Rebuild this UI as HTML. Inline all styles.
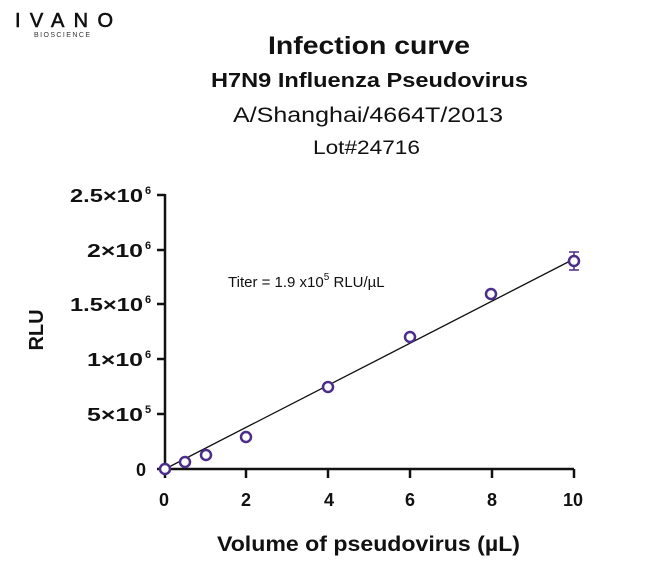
<!DOCTYPE html>
<html><head><meta charset="utf-8"><style>
body{margin:0;background:#fff}
svg{display:block;font-family:"Liberation Sans",sans-serif}
</style></head><body>
<svg width="650" height="588" viewBox="0 0 650 588">
<text x="15" y="27" font-size="20" fill="#111" textLength="98" lengthAdjust="spacing" stroke="#111" stroke-width="0.6">IVANO</text>
<text x="34" y="37" font-size="7" fill="#333" textLength="56" lengthAdjust="spacing">BIOSCIENCE</text>
<g fill="#111">
<text x="268" y="54" font-size="25" font-weight="bold" textLength="202" lengthAdjust="spacingAndGlyphs">Infection curve</text>
<text x="211" y="87" font-size="20" font-weight="bold" textLength="317" lengthAdjust="spacingAndGlyphs">H7N9 Influenza Pseudovirus</text>
<text x="233" y="122" font-size="21" textLength="270" lengthAdjust="spacingAndGlyphs">A/Shanghai/4664T/2013</text>
<text x="313" y="154" font-size="19" textLength="107" lengthAdjust="spacingAndGlyphs">Lot#24716</text>
</g>
<g stroke="#111" stroke-width="2.5" fill="none">
<path d="M165 194V469H574"/>
<path d="M157 195H165M157 250H165M157 304H165M157 359H165M157 414H165M157 469H165"/>
<path d="M246 469V478M328 469V478M410 469V478M492 469V478M574 469V478M165 469V478"/>
</g>
<g font-size="18" font-weight="bold" fill="#111">
<text x="70" y="202" textLength="73" lengthAdjust="spacingAndGlyphs">2.5×10</text><text x="145" y="194" font-size="11">6</text>
<text x="87" y="257" textLength="56" lengthAdjust="spacingAndGlyphs">2×10</text><text x="145" y="249" font-size="11">6</text>
<text x="70" y="311" textLength="73" lengthAdjust="spacingAndGlyphs">1.5×10</text><text x="145" y="303" font-size="11">6</text>
<text x="87" y="366" textLength="56" lengthAdjust="spacingAndGlyphs">1×10</text><text x="145" y="358" font-size="11">6</text>
<text x="87" y="421" textLength="56" lengthAdjust="spacingAndGlyphs">5×10</text><text x="145" y="413" font-size="11">5</text>
<text x="136" y="476">0</text>
</g>
<g font-size="18" font-weight="bold" fill="#111" text-anchor="middle">
<text x="164" y="506">0</text><text x="246" y="506">2</text><text x="329" y="506">4</text>
<text x="410" y="506">6</text><text x="492" y="506">8</text><text x="573" y="506">10</text>
<text transform="translate(43,330) rotate(-90)" font-size="20">RLU</text>
</g>
<text x="217" y="551" font-size="21" font-weight="bold" fill="#111" textLength="303" lengthAdjust="spacingAndGlyphs">Volume of pseudovirus (µL)</text>
<text x="228" y="287" font-size="15" fill="#111">Titer = 1.9 x10<tspan dy="-7" font-size="10">5</tspan><tspan dy="7"> RLU/µL</tspan></text>
<line x1="165" y1="469" x2="574" y2="259" stroke="#111" stroke-width="1.3"/>
<path d="M569 252H579M574 252V270M569 270H579" stroke="#4b2d8a" stroke-width="1.5" fill="none"/>
<g fill="#fff" stroke="#4b2d8a" stroke-width="2.5">
<circle cx="165" cy="469" r="5"/><circle cx="185" cy="462" r="5"/><circle cx="206" cy="455" r="5"/>
<circle cx="246" cy="437" r="5"/><circle cx="328" cy="387" r="5"/><circle cx="410" cy="337" r="5"/>
<circle cx="491" cy="294" r="5"/><circle cx="574" cy="261" r="5"/>
</g>
</svg>
</body></html>
